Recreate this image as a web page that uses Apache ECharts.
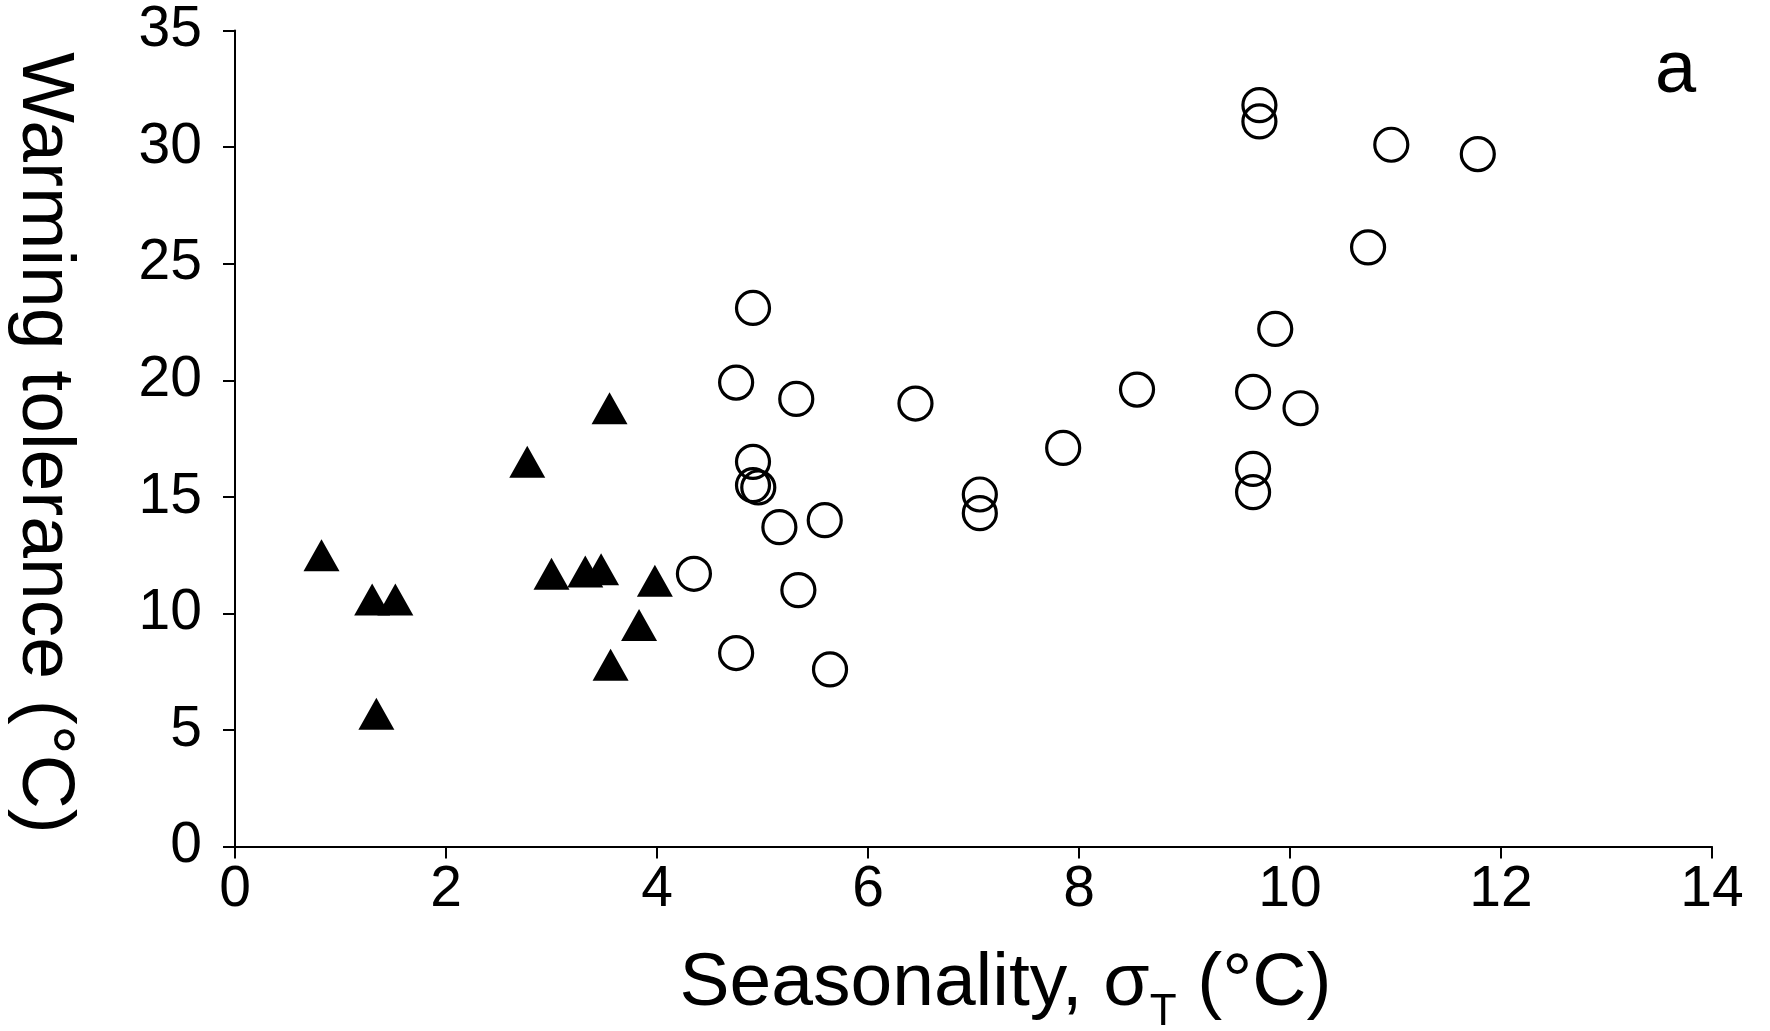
<!DOCTYPE html>
<html>
<head>
<meta charset="utf-8">
<script src="https://cdn.jsdelivr.net/npm/echarts@6/dist/echarts.min.js"></script>
<style>
html,body{margin:0;padding:0;background:#fff;}
#chart{width:1770px;height:1031px;}
</style>
</head>
<body>
<div id="chart"></div>
<script>
// Tropical / low-seasonality species (filled triangles)
const triX = [0.82, 1.30, 1.52, 1.34, 2.77, 3.00, 3.32, 3.47, 3.55, 3.98, 3.83, 3.56];
const triY = [12.5, 10.6, 10.6, 5.7, 16.5, 11.7, 11.8, 11.9, 18.8, 11.4, 9.5, 7.8];
// Temperate species (open circles)
const circX = [4.35, 4.75, 4.75, 4.91, 4.91, 4.91, 4.96, 5.16, 5.32, 5.34, 5.59, 5.64, 6.45, 7.06, 7.06, 7.85, 8.55, 9.65, 9.65, 9.65, 9.71, 9.71, 9.86, 10.10, 10.74, 10.96, 11.78];
const circY = [11.7, 8.3, 19.9, 23.1, 16.5, 15.5, 15.4, 13.7, 19.2, 11.0, 14.0, 7.6, 19.0, 15.1, 14.3, 17.1, 19.6, 19.5, 16.2, 15.2, 31.8, 31.1, 22.2, 18.8, 25.7, 30.1, 29.7];
const xTicks = [0, 2, 4, 6, 8, 10, 12, 14];
const yTicks = [0, 5, 10, 15, 20, 25, 30, 35];

const FONT = '"Liberation Sans", Arial, Helvetica, sans-serif';
const pairs = (xs, ys) => xs.map((x, i) => [x, ys[i]]);

const chart = echarts.init(document.getElementById('chart'), null, {renderer: 'canvas'});
chart.setOption({
  backgroundColor: '#ffffff',
  animation: false,
  title: {
    text: 'a',
    left: 1650,
    top: 30,
    textStyle: {fontSize: 74, fontWeight: 'normal', color: '#000', fontFamily: FONT}
  },
  grid: {left: 235, right: 58, top: 30.5, bottom: 184.4, containLabel: false, outerBoundsMode: 'none'},
  xAxis: {
    type: 'value',
    min: xTicks[0],
    max: xTicks[xTicks.length - 1],
    interval: 2,
    name: '{n|Seasonality, σ}{s|T}{n| (°C)}',
    nameLocation: 'middle',
    nameGap: 88,
    nameTextStyle: {
      padding: [0, 0, 0, 64],
      rich: {
        n: {fontSize: 75, lineHeight: 100, verticalAlign: 'middle', color: '#000', fontFamily: FONT},
        s: {fontSize: 44, lineHeight: 44, verticalAlign: 'bottom', color: '#000', fontFamily: FONT}
      }
    },
    splitLine: {show: false},
    axisLine: {show: true, onZero: false, lineStyle: {color: '#000', width: 2}},
    axisTick: {show: true, inside: false, length: 12, lineStyle: {color: '#000', width: 2}},
    axisLabel: {fontSize: 57, color: '#000', fontFamily: FONT, margin: 15}
  },
  yAxis: {
    type: 'value',
    min: yTicks[0],
    max: yTicks[yTicks.length - 1],
    interval: 5,
    name: 'Warming tolerance (°C)',
    nameLocation: 'middle',
    nameRotate: -90,
    nameGap: 151,
    nameTextStyle: {fontSize: 75, lineHeight: 80, color: '#000', fontFamily: FONT, padding: [0, 0, 0, 9]},
    splitLine: {show: false},
    axisLine: {show: true, onZero: false, lineStyle: {color: '#000', width: 2}},
    axisTick: {show: true, inside: false, length: 12, lineStyle: {color: '#000', width: 2}},
    axisLabel: {fontSize: 57, color: '#000', fontFamily: FONT, margin: 33}
  },
  series: [
    {
      name: 'triangles',
      type: 'scatter',
      data: pairs(triX, triY),
      symbol: 'triangle',
      symbolSize: [36, 32],
      itemStyle: {color: '#000', opacity: 1}
    },
    {
      name: 'circles',
      type: 'scatter',
      data: pairs(circX, circY),
      symbol: 'circle',
      symbolSize: 33,
      itemStyle: {color: 'rgba(255,255,255,0)', borderColor: '#000', borderWidth: 3.2, opacity: 1}
    }
  ]
});
</script>
</body>
</html>
